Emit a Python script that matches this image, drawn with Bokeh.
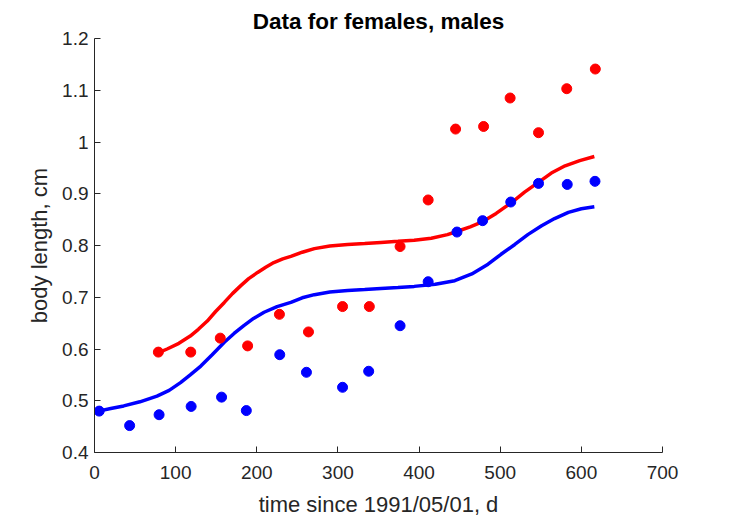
from bokeh.plotting import figure
from bokeh.models import FixedTicker, Range1d
from bokeh.embed import file_html
from bokeh.resources import INLINE

# Data points: females (red), males (blue)
t_f = [78.7, 118.6, 155.0, 188.7, 227.9, 263.7, 305.7, 338.7, 376.6, 411.2,
       445.0, 479.5, 512.2, 547.2, 582.0, 617.2]
L_f = [0.594, 0.594, 0.621, 0.606, 0.667, 0.633, 0.682, 0.682, 0.798, 0.888,
       1.025, 1.030, 1.085, 1.018, 1.103, 1.141]
t_m = [5.8, 43.3, 79.6, 119.1, 156.6, 187.1, 228.3, 261.2, 305.7, 337.9,
       376.6, 411.2, 446.7, 478.3, 513.0, 547.2, 582.6, 616.8]
L_m = [0.480, 0.452, 0.473, 0.489, 0.507, 0.481, 0.589, 0.555, 0.526, 0.557,
       0.645, 0.730, 0.826, 0.848, 0.884, 0.920, 0.918, 0.924]

# Model curves
tc_f = [79.1, 89.5, 104, 118, 128, 139, 149, 160, 170, 180, 190, 201, 211, 221,
        232, 242, 256, 271, 290, 312, 333, 353, 374, 394, 415, 435, 450, 463,
        477, 495, 514, 530, 547, 563, 580, 598, 616]
Lc_f = [0.593, 0.600, 0.611, 0.625, 0.638, 0.654, 0.672, 0.690, 0.707, 0.722,
        0.736, 0.748, 0.758, 0.767, 0.774, 0.779, 0.787, 0.794, 0.799, 0.802,
        0.804, 0.806, 0.808, 0.810, 0.814, 0.821, 0.829, 0.836, 0.845, 0.862,
        0.883, 0.903, 0.922, 0.940, 0.954, 0.964, 0.972]
tc_m = [5, 20, 36, 56, 77, 92, 106, 118, 131, 145, 160, 172, 184, 196, 209,
        225, 242, 256, 271, 290, 312, 333, 353, 374, 394, 420, 444, 465, 485,
        501, 518, 534, 551, 567, 584, 600, 616]
Lc_m = [0.480, 0.485, 0.490, 0.498, 0.509, 0.520, 0.535, 0.550, 0.567, 0.589,
        0.613, 0.630, 0.645, 0.659, 0.671, 0.682, 0.690, 0.699, 0.705, 0.710,
        0.713, 0.715, 0.717, 0.719, 0.721, 0.725, 0.732, 0.745, 0.764, 0.783,
        0.802, 0.821, 0.838, 0.852, 0.864, 0.871, 0.875]

x_ticks = [0, 100, 200, 300, 400, 500, 600, 700]
y_ticks = [0.4, 0.5, 0.6, 0.7, 0.8, 0.9, 1.0, 1.1, 1.2]
y_tick_labels = ["0.4", "0.5", "0.6", "0.7", "0.8", "0.9", "1", "1.1", "1.2"]

RED = "#ff0000"
BLUE = "#0000ff"
AX = "#262626"
FONT = "Liberation Sans"

p = figure(width=722, height=520, output_backend="svg", toolbar_location=None,
           x_range=Range1d(0, 700), y_range=Range1d(0.4, 1.2),
           min_border_left=94, min_border_right=60, min_border_top=38,
           min_border_bottom=68, title="Data for females, males")
p.outline_line_color = None
p.grid.visible = False
p.background_fill_color = "white"
p.border_fill_color = "white"

p.title.align = "center"
p.title.text_font = FONT
p.title.text_font_size = "22.5px"
p.title.text_font_style = "bold"
p.title.text_color = "black"

for ax in (p.xaxis[0], p.yaxis[0]):
    ax.axis_line_color = AX
    ax.axis_line_width = 1
    ax.major_tick_line_color = AX
    ax.major_tick_in = 6
    ax.major_tick_out = 0
    ax.minor_tick_line_color = None
    ax.major_label_text_font = FONT
    ax.major_label_text_font_size = "19px"
    ax.major_label_text_color = AX
    ax.axis_label_text_font = FONT
    ax.axis_label_text_font_size = "22px"
    ax.axis_label_text_font_style = "normal"
    ax.axis_label_text_color = AX

p.xaxis.ticker = FixedTicker(ticks=x_ticks)
p.yaxis.ticker = FixedTicker(ticks=y_ticks)
p.yaxis.major_label_overrides = {v: s for v, s in zip(y_ticks, y_tick_labels)}
p.xaxis.axis_label = "time since 1991/05/01, d"
p.yaxis.axis_label = "body length, cm"
p.xaxis.major_label_standoff = 13
p.yaxis.major_label_standoff = 6
p.xaxis.axis_label_standoff = 10
p.yaxis.axis_label_standoff = 7

p.line(tc_f, Lc_f, line_color=RED, line_width=3.5)
p.line(tc_m, Lc_m, line_color=BLUE, line_width=3.5)
p.scatter(t_f, L_f, size=10, fill_color=RED, line_color=RED)
p.scatter(t_m, L_m, size=10, fill_color=BLUE, line_color=BLUE)

open("out.html", "w").write(file_html(p, INLINE))
